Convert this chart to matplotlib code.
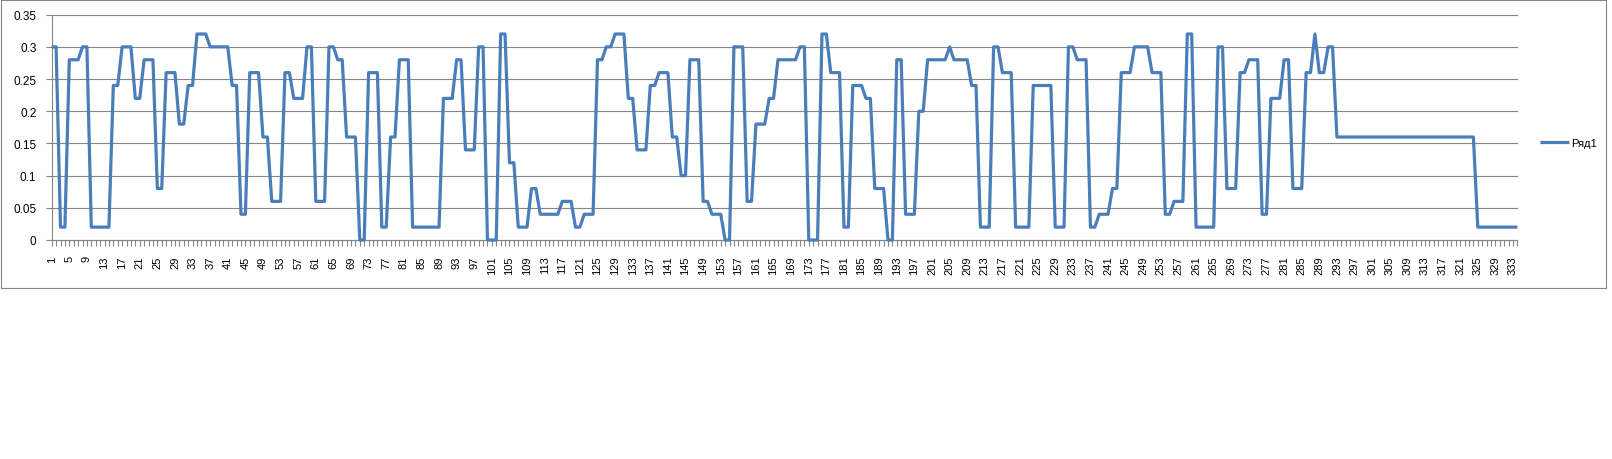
import matplotlib
matplotlib.use("Agg")
import matplotlib.pyplot as plt
from matplotlib.patches import Rectangle

plt.rcParams['font.family'] = ['Liberation Sans', 'DejaVu Sans']

# ---- data ----
values = [
    0.30, 0.30, 0.02, 0.02, 0.28, 0.28, 0.28, 0.30, 0.30, 0.02,
    0.02, 0.02, 0.02, 0.02, 0.24, 0.24, 0.30, 0.30, 0.30, 0.22,
    0.22, 0.28, 0.28, 0.28, 0.08, 0.08, 0.26, 0.26, 0.26, 0.18,
    0.18, 0.24, 0.24, 0.32, 0.32, 0.32, 0.30, 0.30, 0.30, 0.30,
    0.30, 0.24, 0.24, 0.04, 0.04, 0.26, 0.26, 0.26, 0.16, 0.16,
    0.06, 0.06, 0.06, 0.26, 0.26, 0.22, 0.22, 0.22, 0.30, 0.30,
    0.06, 0.06, 0.06, 0.30, 0.30, 0.28, 0.28, 0.16, 0.16, 0.16,
    0.00, 0.00, 0.26, 0.26, 0.26, 0.02, 0.02, 0.16, 0.16, 0.28,
    0.28, 0.28, 0.02, 0.02, 0.02, 0.02, 0.02, 0.02, 0.02, 0.22,
    0.22, 0.22, 0.28, 0.28, 0.14, 0.14, 0.14, 0.30, 0.30, 0.00,
    0.00, 0.00, 0.32, 0.32, 0.12, 0.12, 0.02, 0.02, 0.02, 0.08,
    0.08, 0.04, 0.04, 0.04, 0.04, 0.04, 0.06, 0.06, 0.06, 0.02,
    0.02, 0.04, 0.04, 0.04, 0.28, 0.28, 0.30, 0.30, 0.32, 0.32,
    0.32, 0.22, 0.22, 0.14, 0.14, 0.14, 0.24, 0.24, 0.26, 0.26,
    0.26, 0.16, 0.16, 0.10, 0.10, 0.28, 0.28, 0.28, 0.06, 0.06,
    0.04, 0.04, 0.04, 0.00, 0.00, 0.30, 0.30, 0.30, 0.06, 0.06,
    0.18, 0.18, 0.18, 0.22, 0.22, 0.28, 0.28, 0.28, 0.28, 0.28,
    0.30, 0.30, 0.00, 0.00, 0.00, 0.32, 0.32, 0.26, 0.26, 0.26,
    0.02, 0.02, 0.24, 0.24, 0.24, 0.22, 0.22, 0.08, 0.08, 0.08,
    0.00, 0.00, 0.28, 0.28, 0.04, 0.04, 0.04, 0.20, 0.20, 0.28,
    0.28, 0.28, 0.28, 0.28, 0.30, 0.28, 0.28, 0.28, 0.28, 0.24,
    0.24, 0.02, 0.02, 0.02, 0.30, 0.30, 0.26, 0.26, 0.26, 0.02,
    0.02, 0.02, 0.02, 0.24, 0.24, 0.24, 0.24, 0.24, 0.02, 0.02,
    0.02, 0.30, 0.30, 0.28, 0.28, 0.28, 0.02, 0.02, 0.04, 0.04,
    0.04, 0.08, 0.08, 0.26, 0.26, 0.26, 0.30, 0.30, 0.30, 0.30,
    0.26, 0.26, 0.26, 0.04, 0.04, 0.06, 0.06, 0.06, 0.32, 0.32,
    0.02, 0.02, 0.02, 0.02, 0.02, 0.30, 0.30, 0.08, 0.08, 0.08,
    0.26, 0.26, 0.28, 0.28, 0.28, 0.04, 0.04, 0.22, 0.22, 0.22,
    0.28, 0.28, 0.08, 0.08, 0.08, 0.26, 0.26, 0.32, 0.26, 0.26,
    0.30, 0.30, 0.16, 0.16, 0.16, 0.16, 0.16, 0.16, 0.16, 0.16,
    0.16, 0.16, 0.16, 0.16, 0.16, 0.16, 0.16, 0.16, 0.16, 0.16,
    0.16, 0.16, 0.16, 0.16, 0.16, 0.16, 0.16, 0.16, 0.16, 0.16,
    0.16, 0.16, 0.16, 0.16, 0.02, 0.02, 0.02, 0.02, 0.02, 0.02,
    0.02, 0.02, 0.02, 0.02,
]
categories = list(range(1, len(values) + 1))
x_tick_labels = [str(c) if (c - 1) % 4 == 0 else "" for c in categories]
y_ticks = [0, 0.05, 0.10, 0.15, 0.20, 0.25, 0.30, 0.35]
y_tick_labels = ["0", "0.05", "0.1", "0.15", "0.2", "0.25", "0.3", "0.35"]
series_name = "Ряд1"

# ---- layout ----
W_PX, H_PX = 1612, 460
fig = plt.figure(figsize=(W_PX / 100, H_PX / 100), dpi=100)
fig.patch.set_facecolor("white")

ax_left, ax_right, ax_top, ax_bottom = 51.7, 1517.4, 15.7, 241.0
ax = fig.add_axes([ax_left / W_PX, 1 - ax_bottom / H_PX,
                   (ax_right - ax_left) / W_PX, (ax_bottom - ax_top) / H_PX])

grey = "#868686"
line_color = "#4A7EBB"

ax.plot(categories, values, color=line_color, lw=2.3, label=series_name,
        solid_joinstyle="round", solid_capstyle="butt", zorder=3, clip_on=False)

ax.set_xlim(categories[0], categories[-1])
ax.set_ylim(y_ticks[0], y_ticks[-1])
ax.set_yticks(y_ticks)
ax.set_yticklabels(y_tick_labels)
ax.set_xticks(categories)
ax.set_xticklabels(x_tick_labels, rotation=90)

ax.yaxis.grid(True, color=grey, lw=0.8)
ax.set_axisbelow(True)
for gl in ax.get_ygridlines():
    gl.set_clip_on(False)

for s in ("top", "right"):
    ax.spines[s].set_visible(False)
for s in ("left", "bottom"):
    ax.spines[s].set_color(grey)
    ax.spines[s].set_linewidth(0.8)

ax.tick_params(axis="x", length=4, width=0.8, color=grey, pad=7,
               labelsize=8, labelcolor="black")
ax.tick_params(axis="y", length=4, width=0.8, color=grey, pad=7,
               labelsize=8.5, labelcolor="black")

# chart-area border
fig.add_artist(Rectangle((0.5 / W_PX, 1 - 289 / H_PX), (1606 - 0.5) / W_PX, (289 - 1) / H_PX,
                         transform=fig.transFigure, fill=False, edgecolor=grey, lw=0.8))

ax.legend(loc="center left", bbox_to_anchor=(1540 / W_PX, 1 - 144 / H_PX),
          bbox_transform=fig.transFigure, frameon=False, borderpad=0,
          borderaxespad=0, handlelength=2.6, handletextpad=0.2, fontsize=8)

fig.savefig("out.png", dpi=100, facecolor="white")
